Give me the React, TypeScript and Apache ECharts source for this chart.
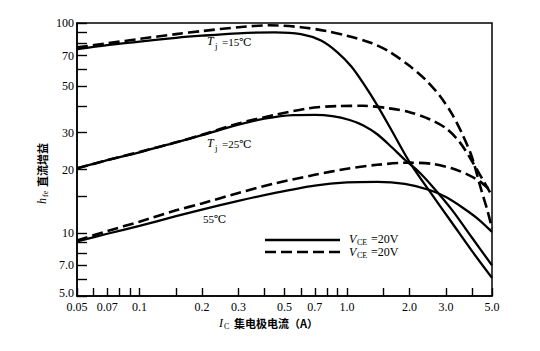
import React, { useEffect, useRef } from "react";
import * as echarts from "echarts";

// ---- data (real units: I_C in A, h_FE) ----
const xTickValues = [0.05, 0.06, 0.07, 0.08, 0.09, 0.1, 0.15, 0.2, 0.3, 0.4, 0.5, 0.6, 0.7, 0.8, 0.9, 1.0, 1.5, 2, 3, 4, 5];
const xLabelValues = [0.05, 0.07, 0.1, 0.2, 0.3, 0.5, 0.7, 1.0, 2.0, 3.0, 5.0];
const xLabelTexts = ["0.05", "0.07", "0.1", "0.2", "0.3", "0.5", "0.7", "1.0", "2.0", "3.0", "5.0"];
const yTickValues = [5, 6, 7, 8, 9, 10, 15, 20, 30, 40, 50, 60, 70, 80, 90, 100];
const yLabelValues = [5, 7, 10, 20, 30, 50, 70, 100];
const yLabelTexts = ["5.0", "7.0", "10", "20", "30", "50", "70", "100"];

const s15X = [0.05, 0.07, 0.1, 0.15, 0.2, 0.3, 0.45, 0.6, 0.75, 0.9, 1.05, 1.2, 1.4, 1.65, 2.0, 2.5, 3.2, 4.0, 5.0];
const s15Y = [75, 78.5, 81.5, 85, 87, 89.3, 90.3, 88.5, 82.5, 72.5, 62, 51.5, 40.5, 30.5, 21.8, 15.8, 11.2, 8.2, 6.1];
const d15X = [0.05, 0.07, 0.1, 0.15, 0.2, 0.3, 0.42, 0.6, 0.8, 1.0, 1.3, 1.6, 2.0, 2.4, 2.8, 3.2, 3.6, 4.0, 4.4, 4.75, 5.0];
const d15Y = [76.5, 80, 84, 88.5, 91.5, 95.5, 97.5, 95.5, 91.5, 87, 80.5, 73, 62.5, 53.5, 45, 37, 29.5, 23, 16.5, 12.8, 10.5];

const s25X = [0.05, 0.07, 0.1, 0.15, 0.2, 0.3, 0.4, 0.55, 0.7, 0.85, 1.03, 1.2, 1.4, 1.65, 1.9, 2.2, 2.6, 3.2, 4.0, 5.0];
const s25Y = [20.3, 22.2, 24.2, 27, 29.2, 32.8, 35, 36.4, 36.5, 36, 34.5, 32.5, 29.5, 25.5, 22.3, 19.7, 16.5, 12.9, 9.5, 7.0];
const d25X = [0.05, 0.07, 0.1, 0.15, 0.2, 0.3, 0.45, 0.65, 0.9, 1.2, 1.6, 2.0, 2.5, 3.0, 3.5, 4.0, 4.5, 5.0];
const d25Y = [20.3, 22.2, 24.3, 27, 29.3, 33.2, 36.5, 39.2, 40.2, 40.3, 39.2, 37.6, 34.8, 31.5, 27, 22, 18, 15];

const s55X = [0.05, 0.07, 0.1, 0.15, 0.2, 0.3, 0.45, 0.7, 1.0, 1.4, 1.9, 2.5, 3.0, 3.6, 4.3, 5.0];
const s55Y = [9.1, 9.9, 10.8, 12.0, 12.9, 14.2, 15.5, 16.8, 17.4, 17.5, 17.1, 16.0, 14.8, 13.2, 11.6, 10.1];
const d55X = [0.05, 0.07, 0.1, 0.15, 0.2, 0.3, 0.45, 0.7, 1.0, 1.4, 2.0, 2.6, 3.2, 3.8, 4.4, 5.0];
const d55Y = [9.2, 10.2, 11.3, 12.8, 13.8, 15.5, 17.2, 18.9, 20.2, 21.1, 21.6, 21.3, 20.3, 19.0, 17.5, 15.7];

const lg = (v: number) => Math.log10(v);
const toPairs = (xs: number[], ys: number[]) => xs.map((x, i) => [lg(x), lg(ys[i])]);

const nearestIndex = (vals: number[], v: number) => {
  let best = 0;
  let bd = Infinity;
  vals.forEach((t, i) => {
    const d = Math.abs(lg(t) - v);
    if (d < bd) {
      bd = d;
      best = i;
    }
  });
  return best;
};

const FONT = "'Liberation Serif', 'DejaVu Serif', serif";
const CJK = "'Noto Sans CJK SC', sans-serif";

export default function App() {
  const ref = useRef<HTMLDivElement>(null);
  useEffect(() => {
    if (!ref.current) return;
    const chart = echarts.init(ref.current, undefined, { renderer: "svg" });
    const solid = (name: string, xs: number[], ys: number[]) => ({
      name,
      type: "line",
      data: toPairs(xs, ys),
      smooth: 0.3,
      symbol: "none",
      lineStyle: { color: "#000", width: 2.3, type: "solid" },
    });
    const dashed = (name: string, xs: number[], ys: number[]) => ({
      name,
      type: "line",
      data: toPairs(xs, ys),
      smooth: 0.3,
      symbol: "none",
      lineStyle: { color: "#000", width: 2.6, type: [11, 5] },
    });
    const txt = (x: number, y: number, text: string, size: number, extra: any = {}) => ({
      type: "text",
      x,
      y,
      style: { text, fontSize: size, fontFamily: FONT, fill: "#000", ...extra },
    });
    chart.setOption({
      animation: false,
      grid: { left: 77, right: 48, top: 23, bottom: 55, show: true, borderColor: "#000", borderWidth: 1.5 },
      xAxis: {
        type: "value",
        min: lg(0.05),
        max: lg(5),
        axisLine: { show: true, onZero: false, lineStyle: { color: "#000", width: 1.5 } },
        axisTick: { show: true, inside: true, length: 8, customValues: xTickValues.map(lg), lineStyle: { color: "#000", width: 1.4 } },
        axisLabel: {
          show: true,
          customValues: xLabelValues.map(lg),
          formatter: (v: number) => xLabelTexts[nearestIndex(xLabelValues, v)],
          color: "#000",
          fontFamily: FONT,
          fontSize: 12,
          margin: 5,
        },
        splitLine: { show: false },
      },
      yAxis: {
        type: "value",
        min: lg(5),
        max: lg(100),
        axisLine: { show: true, onZero: false, lineStyle: { color: "#000", width: 1.5 } },
        axisTick: { show: true, inside: true, length: 10, customValues: yTickValues.map(lg), lineStyle: { color: "#000", width: 1.4 } },
        axisLabel: {
          show: true,
          customValues: yLabelValues.map(lg),
          formatter: (v: number) => {
            const i = nearestIndex(yLabelValues, v);
            return i === 0 ? "{low|" + yLabelTexts[i] + "}" : yLabelTexts[i];
          },
          rich: { low: { fontFamily: FONT, fontSize: 12, color: "#000", padding: [0, 0, 6, 0] } },
          color: "#000",
          fontFamily: FONT,
          fontSize: 12,
          margin: 3,
        },
        splitLine: { show: false },
      },
      series: [
        solid("s15", s15X, s15Y),
        dashed("d15", d15X, d15Y),
        solid("s25", s25X, s25Y),
        dashed("d25", d25X, d25Y),
        solid("s55", s55X, s55Y),
        dashed("d55", d55X, d55Y),
      ],
      graphic: [
        // curve labels
        txt(207, 35, "T", 12, { fontStyle: "italic" }),
        txt(215, 41, "j", 9),
        txt(222, 36, "=15℃", 11),
        txt(207, 137, "T", 12, { fontStyle: "italic" }),
        txt(215, 143, "j", 9),
        txt(222, 138, "=25℃", 11),
        txt(203, 213, "55℃", 11),
        // legend
        { type: "line", shape: { x1: 265, y1: 240, x2: 340, y2: 240 }, style: { stroke: "#000", lineWidth: 2.3 } },
        { type: "line", shape: { x1: 265, y1: 252, x2: 340, y2: 252 }, style: { stroke: "#000", lineWidth: 2.6, lineDash: [11, 5] } },
        txt(349, 233, "V", 12, { fontStyle: "italic" }),
        txt(357, 238, "CE", 8),
        txt(371, 233, "=20V", 12),
        txt(349, 246, "V", 12, { fontStyle: "italic" }),
        txt(357, 251, "CE", 8),
        txt(371, 246, "=20V", 12),
        // x axis name
        txt(219, 317, "I", 12, { fontStyle: "italic" }),
        txt(224, 322, "C", 8),
        { type: "text", x: 234, y: 317, style: { text: "集电极电流（A）", fontSize: 11, fontWeight: "bold", fontFamily: CJK, fill: "#000" } },
        // y axis name (rotated)
        {
          type: "group",
          x: 36,
          y: 204,
          rotation: Math.PI / 2,
          children: [
            txt(0, 0, "h", 12, { fontStyle: "italic" }),
            txt(7, 5, "fe", 8),
            { type: "text", x: 17, y: 0, style: { text: "直流增益", fontSize: 11, fontWeight: "bold", fontFamily: CJK, fill: "#000" } },
          ],
        },
      ],
    });
    return () => chart.dispose();
  }, []);
  return <div ref={ref} style={{ width: 540, height: 351, position: "absolute", left: 0, top: 0, background: "#fff" }} />;
}
